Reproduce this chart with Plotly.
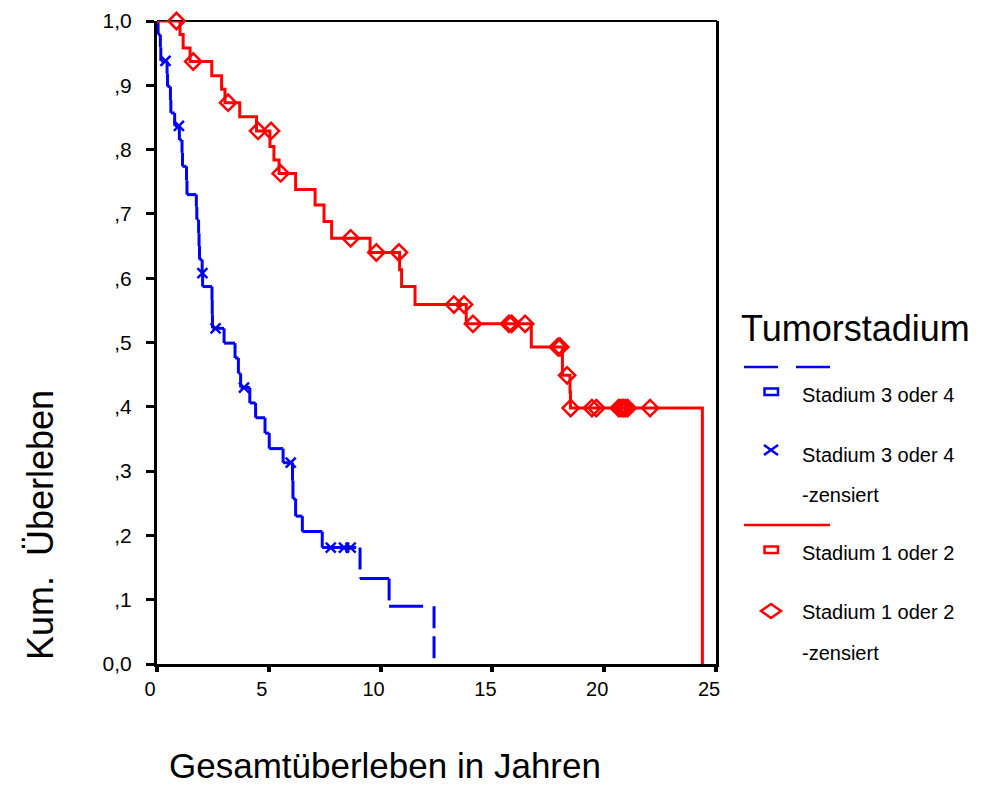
import plotly.graph_objects as go

W, H = 987, 785

# ---------------- data ----------------
# Stadium 3 oder 4 : event times (years) and survival after each event
blue_event_t = [0.05, 0.15, 0.17, 0.45, 0.47, 0.60, 0.62, 0.79, 1.00, 1.12, 1.14,
                1.32, 1.34, 1.76, 1.78, 1.86, 1.88, 1.90, 2.02, 2.04, 2.46, 2.47,
                2.48, 3.00, 3.49, 3.64, 3.74, 4.15, 4.41, 4.83, 5.02, 5.64, 6.06,
                6.08, 6.20, 6.50, 7.39, 9.08, 10.38, 12.39]
blue_event_s = [0.979, 0.959, 0.938, 0.918, 0.898, 0.877, 0.857, 0.837, 0.815, 0.795, 0.774,
                0.752, 0.730, 0.711, 0.691, 0.670, 0.650, 0.629, 0.608, 0.587, 0.566, 0.544,
                0.522, 0.499, 0.476, 0.452, 0.430, 0.406, 0.383, 0.359, 0.335, 0.313, 0.285,
                0.257, 0.230, 0.206, 0.181, 0.133, 0.090, 0.0]
blue_cens_t = [0.38, 0.98, 2.03, 2.62, 3.89, 5.98, 7.77, 8.36, 8.66]
blue_cens_s = [0.938, 0.837, 0.608, 0.522, 0.430, 0.313, 0.181, 0.181, 0.181]

# Stadium 1 oder 2
red_event_t = [1.03, 1.17, 1.48, 2.45, 2.89, 3.04, 3.70, 4.45, 5.05, 5.23, 5.46,
               6.20, 7.07, 7.47, 7.81, 9.53, 10.85, 10.94, 11.54, 13.83, 16.74,
               18.13, 18.47, 18.49, 24.39]
red_event_s = [0.979, 0.958, 0.937, 0.915, 0.894, 0.873, 0.851, 0.829, 0.805, 0.784, 0.763,
               0.738, 0.714, 0.688, 0.662, 0.640, 0.613, 0.587, 0.559, 0.529, 0.493,
               0.449, 0.423, 0.398, 0.0]
red_cens_t = [0.87, 1.62, 3.18, 4.52, 5.10, 5.53, 8.66, 9.81, 10.82, 13.28, 13.73,
              14.13, 15.74, 15.86, 16.46, 17.93, 17.98, 18.03, 18.34, 18.50, 19.45,
              19.65, 20.65, 20.75, 20.85, 20.95, 21.05, 22.05]
red_cens_s = [1.0, 0.937, 0.873, 0.829, 0.829, 0.763, 0.662, 0.640, 0.640, 0.559, 0.559,
              0.529, 0.529, 0.529, 0.529, 0.493, 0.493, 0.493, 0.449, 0.398, 0.398,
              0.398, 0.398, 0.398, 0.398, 0.398, 0.398, 0.398]

x_tickvals = [0, 5, 10, 15, 20, 25]
x_ticktext = ["0", "5", "10", "15", "20", "25"]
y_tickvals = [0.0, 0.1, 0.2, 0.3, 0.4, 0.5, 0.6, 0.7, 0.8, 0.9, 1.0]
y_ticktext = ["0,0", ",1", ",2", ",3", ",4", ",5", ",6", ",7", ",8", ",9", "1,0"]

legend_title = "Tumorstadium"
legend_labels = ["Stadium 3 oder 4", "Stadium 3 oder 4", "-zensiert",
                 "Stadium 1 oder 2", "Stadium 1 oder 2", "-zensiert"]
x_title = "Gesamtüberleben in Jahren"
y_title = "Kum.\u00a0 Überleben"

BLUE = "#0000FF"
RED = "#FF0000"
FONT = "Liberation Sans, Arial, Helvetica, sans-serif"


def px(x):
    return x / W


def py(y):
    return 1 - y / H


def step_path(ts, ss):
    xs, ys = [0.0], [1.0]
    prev_s = 1.0
    for t, s in zip(ts, ss):
        xs += [t, t]
        ys += [prev_s, s]
        prev_s = s
    return xs, ys


def step_segments(ts, ss):
    hx, hy, vx, vy = [], [], [], []
    prev_t, prev_s = 0.0, 1.0
    for t, s in zip(ts, ss):
        hx += [prev_t, t, None]
        hy += [prev_s, prev_s, None]
        vx += [t, t, None]
        vy += [prev_s, s, None]
        prev_t, prev_s = t, s
    return hx, hy, vx, vy


fig = go.Figure()

# blue curve (dashed, dash pattern restarting per segment)
bhx, bhy, bvx, bvy = step_segments(blue_event_t, blue_event_s)
fig.add_trace(go.Scatter(x=bhx, y=bhy, mode="lines", cliponaxis=False,
                         line=dict(color=BLUE, width=3, dash="34px,12px"),
                         hoverinfo="skip"))
fig.add_trace(go.Scatter(x=bvx, y=bvy, mode="lines", cliponaxis=False,
                         line=dict(color=BLUE, width=3, dash="22px,8px"),
                         hoverinfo="skip"))
fig.add_trace(go.Scatter(x=blue_cens_t, y=blue_cens_s, mode="markers", cliponaxis=False,
                         marker=dict(symbol="x-thin-open", size=10, color=BLUE,
                                     line=dict(color=BLUE, width=2.5))))

# red curve
rx, ry = step_path(red_event_t, red_event_s)
fig.add_trace(go.Scatter(x=rx, y=ry, mode="lines", cliponaxis=False,
                         line=dict(color=RED, width=3), hoverinfo="skip"))
fig.add_trace(go.Scatter(x=red_cens_t, y=red_cens_s, mode="markers", cliponaxis=False,
                         marker=dict(symbol="diamond-open", size=12.5, color=RED,
                                     line=dict(color=RED, width=2.5))))

# ---------------- axes ----------------
fig.update_xaxes(domain=[px(157), px(716)], range=[0, 25], automargin=False,
                 tickvals=x_tickvals, ticktext=x_ticktext,
                 ticks="outside", ticklen=5, tickwidth=4, tickcolor="black",
                 showline=True, linewidth=3, linecolor="black",
                 showgrid=False, zeroline=False, ticklabelshift=-7,
                 tickfont=dict(size=20, family=FONT, color="black"))
fig.update_yaxes(domain=[py(664), py(21)], range=[0, 1], automargin=False,
                 tickvals=y_tickvals, ticktext=y_ticktext,
                 ticks="outside", ticklen=8, tickwidth=3, tickcolor="black",
                 showline=True, linewidth=3, linecolor="black", mirror=True,
                 showgrid=False, zeroline=False, ticklabelstandoff=10,
                 tickfont=dict(size=21, family=FONT, color="black"))

shapes = []
# top border of the frame
shapes.append(dict(type="line", xref="paper", yref="paper", layer="below",
                   x0=px(157), x1=px(717), y0=py(21), y1=py(21),
                   line=dict(color="black", width=2)))

# ---------------- legend (drawn by hand) ----------------
shapes.append(dict(type="line", xref="paper", yref="paper",
                   x0=px(744), x1=px(830), y0=py(367), y1=py(367),
                   line=dict(color=BLUE, width=2.5, dash="34px,18px")))
shapes.append(dict(type="rect", xref="paper", yref="paper",
                   x0=px(764.5), x1=px(778), y0=py(388.5), y1=py(395),
                   line=dict(color=BLUE, width=2.5)))
shapes.append(dict(type="line", xref="paper", yref="paper",
                   x0=px(764), x1=px(778), y0=py(445), y1=py(455),
                   line=dict(color=BLUE, width=2.5)))
shapes.append(dict(type="line", xref="paper", yref="paper",
                   x0=px(764), x1=px(778), y0=py(455), y1=py(445),
                   line=dict(color=BLUE, width=2.5)))
shapes.append(dict(type="line", xref="paper", yref="paper",
                   x0=px(744), x1=px(830), y0=py(525), y1=py(525),
                   line=dict(color=RED, width=2.5)))
shapes.append(dict(type="rect", xref="paper", yref="paper",
                   x0=px(764.5), x1=px(778), y0=py(546.5), y1=py(553),
                   line=dict(color=RED, width=2.5)))
shapes.append(dict(type="path", xref="paper", yref="paper",
                   path="M {:.5f},{:.5f} L {:.5f},{:.5f} L {:.5f},{:.5f} L {:.5f},{:.5f} Z".format(
                       px(761), py(611), px(771), py(604), px(781), py(611), px(771), py(618)),
                   line=dict(color=RED, width=2.5)))

annotations = []


def text(x, y, s, size, xanchor="left", angle=0):
    annotations.append(dict(x=px(x), y=py(y), xref="paper", yref="paper", text=s,
                            showarrow=False, xanchor=xanchor, yanchor="middle",
                            textangle=angle,
                            font=dict(size=size, family=FONT, color="black")))


text(739, 328, legend_title, 36)
label_y = [395, 455, 495, 553, 612, 653]
for lab, yy in zip(legend_labels, label_y):
    text(800, yy, lab, 20)

text(385, 765, x_title, 35, xanchor="center")
text(40, 525, y_title, 36, xanchor="center", angle=-90)

fig.update_layout(width=W, height=H, margin=dict(l=0, r=0, t=0, b=0, autoexpand=False),
                  paper_bgcolor="white", plot_bgcolor="white", showlegend=False,
                  font=dict(family=FONT, color="black"),
                  shapes=shapes, annotations=annotations)

fig.write_html("out.html")
